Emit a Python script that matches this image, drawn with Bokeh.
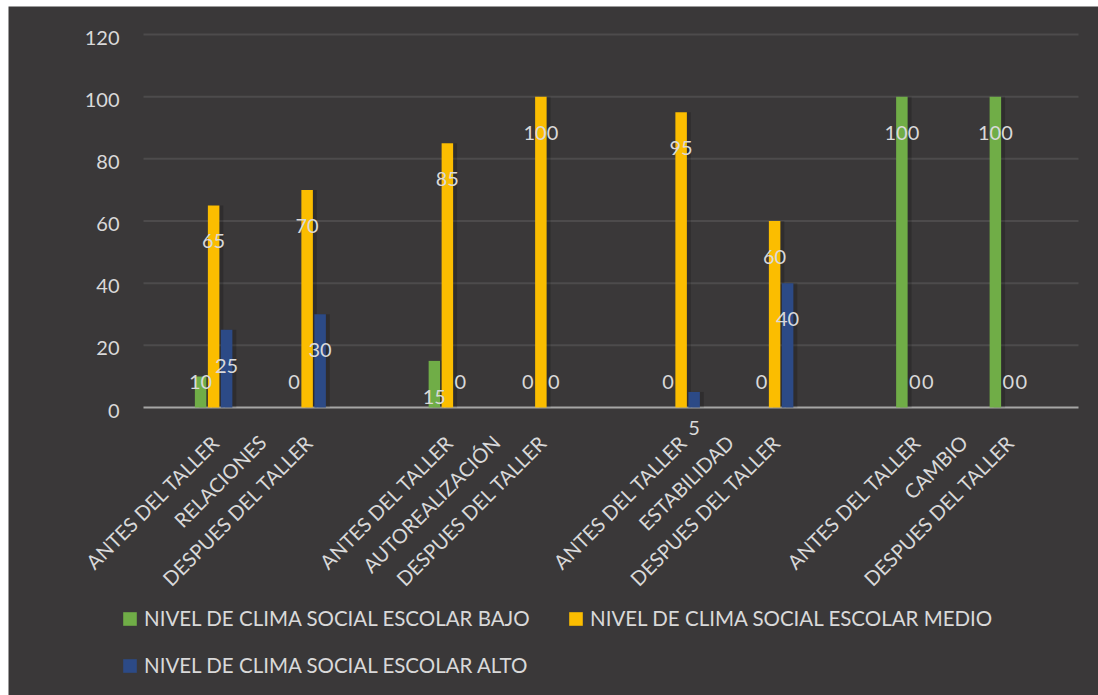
import numpy as np
from bokeh.plotting import figure
from bokeh.models import (Range1d, ColumnDataSource, LabelSet, Legend, LegendItem, Spacer)
from bokeh.core.properties import value
from bokeh.layouts import column, row
from bokeh.embed import file_html
from bokeh.resources import INLINE

# ---- data ----
groups = ["RELACIONES", "AUTOREALIZACIÓN", "ESTABILIDAD", "CAMBIO"]
phases = ["ANTES DEL TALLER", "DESPUES DEL TALLER"]
series_names = ["NIVEL DE CLIMA SOCIAL ESCOLAR BAJO",
                "NIVEL DE CLIMA SOCIAL ESCOLAR MEDIO",
                "NIVEL DE CLIMA SOCIAL ESCOLAR ALTO"]
bajo = [10, 0, 15, 0, 0, 0, 100, 100]
medio = [65, 70, 85, 100, 95, 60, 0, 0]
alto = [25, 30, 0, 0, 5, 40, 0, 0]
y_ticks = [0, 20, 40, 60, 80, 100, 120]

# ---- style ----
BG = "#3a3839"
TXT = "#d9d9d9"
FONT = "Lato"
colors = ["#70ad47", "#fbbd00", "#2c4a86"]

# category positions: each group spans 10 units (5 slots of 2)
cat_x = []
lab_x, lab_t = [], []
for g, name in enumerate(groups):
    a = g * 10 + 3
    d = g * 10 + 7
    cat_x += [a, d]
    lab_x += [a, g * 10 + 5, d]
    lab_t += [phases[0], name, phases[1]]

px_unit = 373 / 120.0          # pixels per y unit
slot_px = 46.75 / 2.0          # pixels per x unit
x_lo = -135 / slot_px
x_hi = 40 + 20 / slot_px
y_lo = -288 / px_unit
y_hi = 120 + 28 / px_unit

p = figure(width=1090, height=689, output_backend="svg", toolbar_location=None,
           x_range=Range1d(x_lo, x_hi), y_range=Range1d(y_lo, y_hi),
           min_border_left=0, min_border_right=0, min_border_top=0, min_border_bottom=0)
p.background_fill_color = BG
p.border_fill_color = BG
p.outline_line_color = BG
p.outline_line_width = 0
p.outline_line_alpha = 0
p.xaxis.visible = False
p.yaxis.visible = False
p.grid.visible = False

# gridlines and base line
p.segment(x0=0, x1=40, y0=y_ticks[1:], y1=y_ticks[1:], line_color="#4d4b4c", line_width=2)
p.segment(x0=0, x1=40, y0=0, y1=0, line_color="#a6a6a6", line_width=2)

# y tick labels
p.text(x=[0] * len(y_ticks), y=y_ticks, text=[str(t) for t in y_ticks], x_offset=-24, y_offset=3,
       text_align="right", text_baseline="middle", text_color=TXT,
       text_font=value(FONT), text_font_size="20px")

step = 0.556
bw = 0.492
renderers = []
for i, (vals, col) in enumerate(zip([bajo, medio, alto], colors)):
    xs = [x + (i - 1) * step for x in cat_x]
    p.vbar(x=[x + 0.17 for x in xs], top=vals, width=bw, fill_color="black",
           fill_alpha=0.18, line_color=None)
    r = p.vbar(x=xs, top=vals, width=bw, fill_color=col, line_color=None)
    renderers.append(r)
    lab_y = [v - 36 / px_unit if (v >= 15 or v == 5) else 26 / px_unit for v in vals]
    src = ColumnDataSource(dict(x=xs, y=lab_y, t=[str(v) for v in vals]))
    p.add_layout(LabelSet(x="x", y="y", text="t", source=src, text_align="center",
                          text_baseline="middle", text_color=TXT, text_font=value(FONT),
                          text_font_size="20px"))

# category labels (rotated)
p.text(x=lab_x, y=[0] * len(lab_x), text=lab_t, angle=np.pi / 4, x_offset=2, y_offset=31,
       text_align="right", text_baseline="middle", text_color=TXT,
       text_font=value(FONT), text_font_size="20px")

legend = Legend(items=[LegendItem(label=n, renderers=[r]) for n, r in zip(series_names, renderers)],
                location=(113, 18), orientation="horizontal", ncols=2,
                background_fill_alpha=0, border_line_color=None,
                padding=0, margin=0, spacing=23, glyph_width=17, glyph_height=17,
                label_height=17, label_width=400, label_standoff=6,
                label_text_color=TXT, label_text_font=FONT, label_text_font_size="20.5px")
p.add_layout(legend, "center")

layout = column(Spacer(height=6), row(Spacer(width=8), p, styles={"gap": "0px"}),
                styles={"gap": "0px"})
open("out.html", "w").write(file_html(layout, INLINE))
